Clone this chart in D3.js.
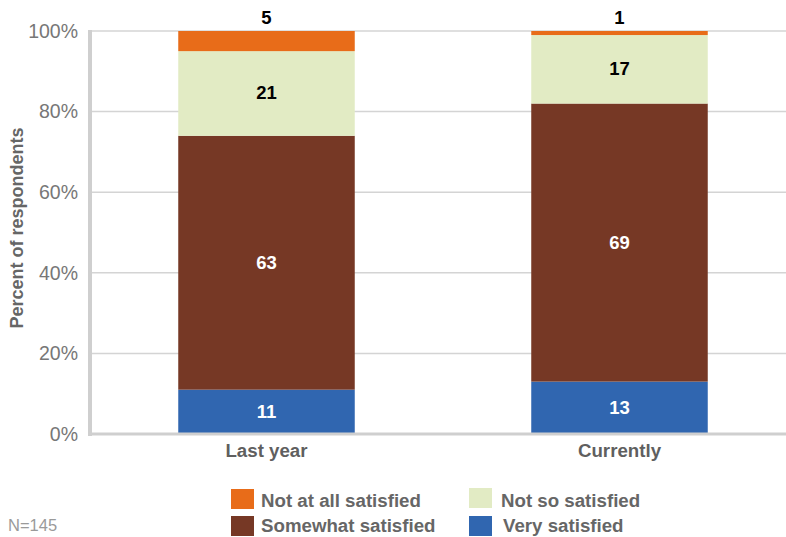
<!DOCTYPE html>
<html><head><meta charset="utf-8">
<script src="https://cdn.jsdelivr.net/npm/d3@7"></script>
<style>body{margin:0;background:#fff;} svg{font-family:"Liberation Sans",Arial,sans-serif;}</style>
</head><body>
<svg id="c" width="786" height="537"></svg>
<script>
const categories = ["Last year", "Currently"];
const seriesNames = ["Very satisfied", "Somewhat satisfied", "Not so satisfied", "Not at all satisfied"];
const verySatisfied = [11, 13];
const somewhatSatisfied = [63, 69];
const notSoSatisfied = [21, 17];
const notAtAllSatisfied = [5, 1];
const yTicks = [0, 20, 40, 60, 80, 100];
const colors = ["#3066B0", "#763825", "#E2EBC4", "#E86C19"];
const labelColors = ["#fff", "#fff", "#000", "#000"];

const svg = d3.select("#c");
const L = 90, R = 796, T = 31, B = 434;
const x = d3.scaleBand().domain(categories).range([L, R]).paddingInner(0.5).paddingOuter(0.25);
const y = d3.scaleLinear().domain([0, 100]).range([B, T]);

const rows = categories.map((c, i) => ({cat: c, "Very satisfied": verySatisfied[i], "Somewhat satisfied": somewhatSatisfied[i], "Not so satisfied": notSoSatisfied[i], "Not at all satisfied": notAtAllSatisfied[i]}));
const stack = d3.stack().keys(seriesNames)(rows);

// gridlines
svg.append("g").selectAll("line").data(yTicks.filter(t => t > 0)).join("line")
  .attr("x1", L + 2).attr("x2", 786).attr("y1", d => y(d)).attr("y2", d => y(d))
  .attr("stroke", "#d4d4d4").attr("stroke-width", 1.5);

// bars
stack.forEach((s, si) => {
  svg.append("g").selectAll("rect").data(s).join("rect")
    .attr("x", d => x(d.data.cat)).attr("width", x.bandwidth())
    .attr("y", d => y(d[1])).attr("height", d => y(d[0]) - y(d[1]))
    .attr("fill", colors[si]);
});

// axes lines
svg.append("line").attr("x1", L).attr("x2", L).attr("y1", T - 1).attr("y2", B + 2).attr("stroke", "#cfcfcf").attr("stroke-width", 4);
svg.append("line").attr("x1", L - 2).attr("x2", 786).attr("y1", B).attr("y2", B).attr("stroke", "#cfcfcf").attr("stroke-width", 3);

// y tick labels
const yAxis = d3.axisLeft(y).tickValues(yTicks).tickFormat(d => d + "%").tickSize(0).tickPadding(12);
const ga = svg.append("g").attr("transform", `translate(${L},0)`).call(yAxis);
ga.select(".domain").remove();
ga.selectAll("text").attr("font-size", 19.5).attr("fill", "#777").attr("font-family", "Liberation Sans, Arial, sans-serif");

// x labels
svg.append("g").selectAll("text").data(categories).join("text")
  .attr("x", d => x(d) + x.bandwidth() / 2).attr("y", 457).attr("text-anchor", "middle")
  .attr("font-size", 18.7).attr("font-weight", "bold").attr("fill", "#5f5f5f").text(d => d);

// y title
svg.append("text").attr("transform", `translate(23,228) rotate(-90)`)
  .attr("text-anchor", "middle").attr("font-size", 18).attr("font-weight", "bold").attr("fill", "#666")
  .text("Percent of respondents");

// value labels
stack.forEach((s, si) => {
  svg.append("g").selectAll("text").data(s).join("text")
    .attr("x", d => x(d.data.cat) + x.bandwidth() / 2)
    .attr("y", d => si === 3 ? y(d[1]) - 7 : (y(d[0]) + y(d[1])) / 2 + 6)
    .attr("text-anchor", "middle").attr("font-size", 18.5).attr("font-weight", "bold")
    .attr("fill", labelColors[si]).text(d => d[1] - d[0]);
});

// legend
const legendItems = [
  {name: "Not at all satisfied", c: colors[3], x: 231, y: 489, tx: 30, ty: 18},
  {name: "Not so satisfied", c: colors[2], x: 469, y: 488, tx: 32, ty: 19},
  {name: "Somewhat satisfied", c: colors[1], x: 231, y: 516, tx: 30, ty: 16},
  {name: "Very satisfied", c: colors[0], x: 469, y: 516, tx: 34, ty: 16}
];
const lg = svg.append("g").selectAll("g").data(legendItems).join("g").attr("transform", d => `translate(${d.x},${d.y})`);
lg.append("rect").attr("width", 23).attr("height", 20).attr("fill", d => d.c);
lg.append("text").attr("x", d => d.tx).attr("y", d => d.ty).attr("font-size", 18.7).attr("font-weight", "bold")
  .attr("fill", "#666").text(d => d.name);

svg.append("text").attr("x", 8).attr("y", 531).attr("font-size", 16.5).attr("fill", "#9a9a9a").text("N=145");
</script>
</body></html>
